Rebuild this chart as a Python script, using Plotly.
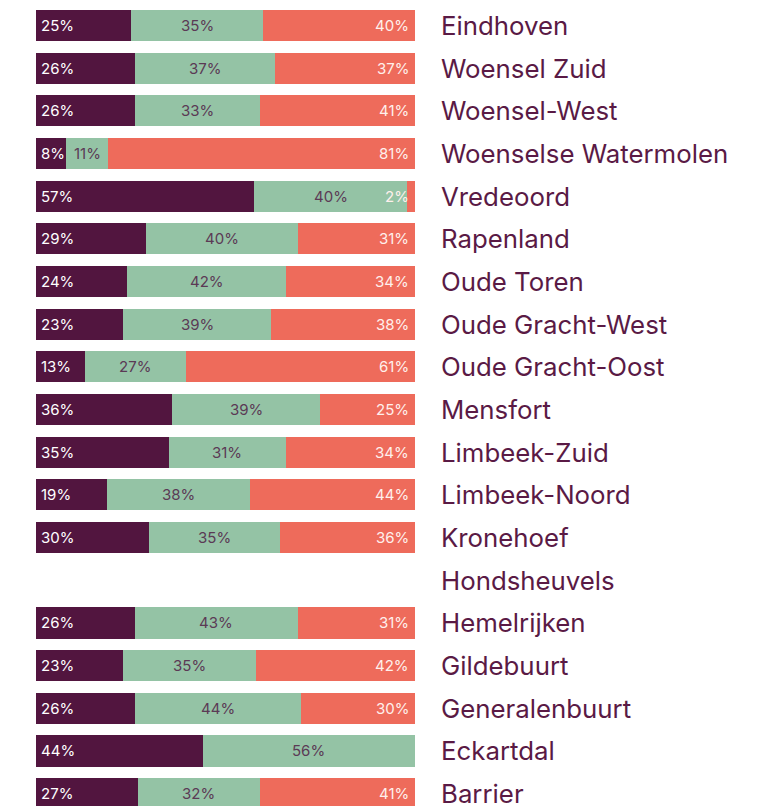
import plotly.graph_objects as go

neighbourhoods = ["Eindhoven", "Woensel Zuid", "Woensel-West", "Woenselse Watermolen",
                  "Vredeoord", "Rapenland", "Oude Toren", "Oude Gracht-West",
                  "Oude Gracht-Oost", "Mensfort", "Limbeek-Zuid", "Limbeek-Noord",
                  "Kronehoef", "Hondsheuvels", "Hemelrijken", "Gildebuurt",
                  "Generalenbuurt", "Eckartdal", "Barrier"]
part_a = [25, 26, 26, 8, 57, 29, 24, 23, 13, 36, 35, 19, 30, None, 26, 23, 26, 44, 27]
part_b = [35, 37, 33, 11, 40, 40, 42, 39, 27, 39, 31, 38, 35, None, 43, 35, 44, 56, 32]
part_c = [40, 37, 41, 81, 2, 31, 34, 38, 61, 25, 34, 44, 36, None, 31, 42, 30, 0, 41]

COL_A, COL_B, COL_C = "#52153f", "#94c3a5", "#ee6b5b"
TXT_A, TXT_B, TXT_C = "#ffffff", "#5b3a55", "#fff0ec"
NAME_COL = "#5a1a45"
FONT = "Inter"

fa, fb, fc = [], [], []
for a, b, c in zip(part_a, part_b, part_c):
    if a is None:
        fa.append(None); fb.append(None); fc.append(None)
        continue
    t = a + b + c
    fa.append(a / t); fb.append(b / t); fc.append(c / t)

fig = go.Figure()
for vals, col, name in [(fa, COL_A, "a"), (fb, COL_B, "b"), (fc, COL_C, "c")]:
    fig.add_trace(go.Bar(y=neighbourhoods, x=vals, orientation="h",
                         marker=dict(color=col, line=dict(width=0)),
                         name=name, hoverinfo="skip"))

ann = []
for i, n in enumerate(neighbourhoods):
    ann.append(dict(x=1, y=n, xref="paper", yref="y", text=n, showarrow=False,
                    xanchor="left", xshift=24, yshift=0,
                    font=dict(family=FONT, size=25.8, color=NAME_COL)))
    if part_a[i] is None:
        continue
    if part_a[i] > 0:
        ann.append(dict(x=0, y=n, xref="x", yref="y", text=f"{part_a[i]}%",
                        showarrow=False, xanchor="left", xshift=3,
                        font=dict(family=FONT, size=15, color=TXT_A)))
    if part_b[i] > 0:
        ann.append(dict(x=fa[i] + fb[i] / 2, y=n, xref="x", yref="y", text=f"{part_b[i]}%",
                        showarrow=False, xanchor="center",
                        font=dict(family=FONT, size=15, color=TXT_B)))
    if part_c[i] > 0:
        ann.append(dict(x=1, y=n, xref="x", yref="y", text=f"{part_c[i]}%",
                        showarrow=False, xanchor="right", xshift=-4,
                        font=dict(family=FONT, size=15, color=TXT_C)))

fig.update_layout(
    width=762, height=798, barmode="stack", bargap=0.27,
    margin=dict(l=28, r=355, t=0, b=0, autoexpand=False),
    paper_bgcolor="white", plot_bgcolor="white",
    showlegend=False, annotations=ann,
    font=dict(family=FONT),
    xaxis=dict(range=[0, 1], visible=False, fixedrange=True),
    yaxis=dict(categoryorder="array", categoryarray=neighbourhoods,
               range=[18.29, -0.41], showticklabels=False, showgrid=False,
               zeroline=False, showline=False, ticks=""),
)
fig.write_html("out.html")
